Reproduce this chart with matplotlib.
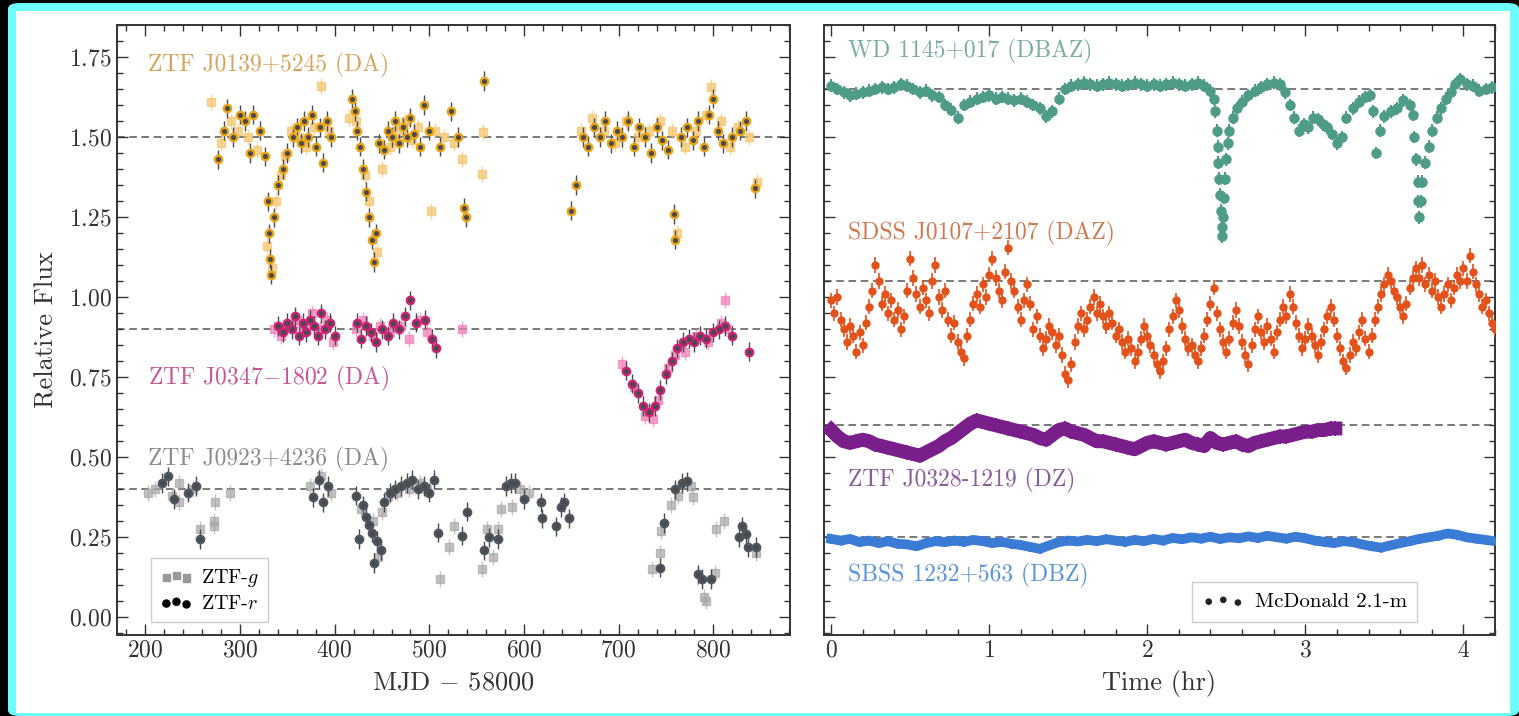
import matplotlib
matplotlib.use("Agg")
import matplotlib.pyplot as plt
from matplotlib.patches import FancyBboxPatch
from matplotlib.ticker import MultipleLocator

plt.rcParams['font.family'] = ['cmr10', 'DejaVu Serif']
plt.rcParams['mathtext.fontset'] = 'cm'
plt.rcParams['axes.formatter.use_mathtext'] = True

# ---------------- left panel: ZTF light curves (MJD - 58000, relative flux)
j0139_r_t = [277, 283, 286, 293, 300, 305, 311, 314, 321, 326, 330, 331, 332, 333, 336, 340, 345, 350,
             356, 360, 364, 368, 372, 376, 380, 384, 388, 392, 396, 418, 421, 424, 427, 430, 433, 436,
             439, 441, 444, 447, 452, 456, 460, 464, 468, 472, 476, 480, 484, 490, 494, 500, 511, 523,
             530, 537, 539, 558, 650, 655, 662, 668, 674, 680, 686, 692, 698, 704, 710, 716, 722, 728,
             734, 740, 746, 752, 758, 760, 766, 772, 778, 784, 790, 795, 800, 805, 810, 820, 828, 835, 844]
j0139_r_f = [1.43, 1.52, 1.59, 1.50, 1.57, 1.55, 1.45, 1.57, 1.52, 1.44, 1.30, 1.20, 1.12, 1.07, 1.25, 1.35,
             1.40, 1.45, 1.50, 1.53, 1.48, 1.55, 1.50, 1.57, 1.47, 1.53, 1.42, 1.55, 1.50, 1.62, 1.58, 1.52,
             1.47, 1.40, 1.33, 1.25, 1.18, 1.11, 1.20, 1.48, 1.46, 1.52, 1.50, 1.55, 1.48, 1.53, 1.50, 1.56,
             1.51, 1.47, 1.60, 1.52, 1.47, 1.58, 1.50, 1.28, 1.25, 1.675, 1.27, 1.35, 1.50, 1.47, 1.53, 1.50,
             1.55, 1.48, 1.52, 1.50, 1.55, 1.47, 1.53, 1.50, 1.45, 1.53, 1.49, 1.46, 1.26, 1.18, 1.50, 1.53,
             1.49, 1.55, 1.47, 1.57, 1.62, 1.52, 1.48, 1.50, 1.52, 1.55, 1.34]
j0139_g_t = [269, 280, 290, 298, 308, 318, 328, 334, 338, 343, 348, 354, 362, 370, 378, 386, 394, 415, 423,
             432, 436, 445, 450, 458, 466, 474, 482, 488, 502, 506, 515, 526, 534, 556, 557, 660, 672, 684,
             696, 708, 720, 732, 744, 756, 762, 770, 782, 792, 798, 808, 818, 826, 838, 846]
j0139_g_f = [1.61, 1.48, 1.55, 1.52, 1.50, 1.46, 1.16, 1.09, 1.30, 1.38, 1.44, 1.52, 1.50, 1.47, 1.53, 1.66,
             1.52, 1.56, 1.55, 1.38, 1.30, 1.14, 1.40, 1.47, 1.52, 1.55, 1.49, 1.53, 1.27, 1.52, 1.50, 1.48,
             1.43, 1.385, 1.515, 1.52, 1.56, 1.52, 1.48, 1.55, 1.50, 1.52, 1.55, 1.52, 1.20, 1.47, 1.52,
             1.57, 1.656, 1.55, 1.47, 1.53, 1.50, 1.36]

j0347_r_t = [340, 345, 350, 355, 358, 362, 366, 370, 374, 378, 382, 386, 390, 395, 400, 424, 428, 433, 438,
             444, 450, 456, 462, 468, 474, 480, 486, 495, 503, 507, 708, 714, 720, 726, 732, 738, 744, 750,
             756, 762, 768, 774, 780, 786, 792, 800, 806, 812, 820, 838]
j0347_r_f = [0.91, 0.89, 0.92, 0.90, 0.94, 0.88, 0.92, 0.89, 0.93, 0.91, 0.88, 0.95, 0.90, 0.92, 0.88, 0.92,
             0.87, 0.91, 0.89, 0.86, 0.90, 0.88, 0.92, 0.90, 0.94, 0.99, 0.92, 0.93, 0.87, 0.84, 0.77, 0.73,
             0.70, 0.66, 0.64, 0.66, 0.71, 0.76, 0.80, 0.84, 0.86, 0.87, 0.86, 0.88, 0.87, 0.89, 0.90, 0.91,
             0.88, 0.83]
j0347_g_t = [336, 343, 352, 360, 368, 376, 384, 392, 398, 422, 430, 440, 448, 458, 470, 478, 490, 498, 534,
             704, 716, 728, 736, 742, 752, 760, 770, 782, 794, 808, 812, 816]
j0347_g_f = [0.90, 0.88, 0.91, 0.93, 0.90, 0.95, 0.90, 0.93, 0.86, 0.90, 0.93, 0.88, 0.91, 0.89, 0.91, 0.87,
             0.93, 0.89, 0.90, 0.79, 0.72, 0.63, 0.62, 0.68, 0.78, 0.82, 0.83, 0.88, 0.86, 0.92, 0.99, 0.90]

j0923_r_t = [218, 224, 230, 245, 253, 258, 377, 383, 388, 393, 423, 426, 430, 433, 436, 439, 442, 445, 449,
             452, 458, 464, 470, 476, 482, 488, 494, 500, 505, 509, 535, 540, 558, 563, 572, 581, 586, 591,
             600, 618, 619, 634, 639, 642, 648, 744, 748, 760, 767, 772, 784, 788, 798, 827, 830, 834, 837, 845]
j0923_r_f = [0.42, 0.44, 0.37, 0.39, 0.41, 0.245, 0.375, 0.43, 0.36, 0.41, 0.38, 0.245, 0.35, 0.315, 0.29,
             0.265, 0.17, 0.24, 0.21, 0.36, 0.39, 0.40, 0.41, 0.42, 0.43, 0.40, 0.41, 0.39, 0.43, 0.265,
             0.255, 0.33, 0.21, 0.25, 0.245, 0.41, 0.42, 0.42, 0.37, 0.36, 0.31, 0.285, 0.345, 0.36, 0.31,
             0.155, 0.295, 0.40, 0.42, 0.425, 0.135, 0.12, 0.12, 0.25, 0.285, 0.26, 0.22, 0.22]
j0923_g_t = [203, 210, 228, 235, 236, 250, 258, 272, 273, 274, 289, 374, 386, 396, 428, 440, 446, 450, 456,
             466, 478, 490, 498, 511, 521, 526, 556, 561, 567, 572, 576, 587, 596, 605, 735, 744, 745, 755,
             763, 776, 779, 790, 792, 802, 803, 811, 845]
j0923_g_f = [0.39, 0.40, 0.38, 0.42, 0.36, 0.40, 0.275, 0.30, 0.285, 0.36, 0.39, 0.41, 0.44, 0.39, 0.34,
             0.30, 0.19, 0.33, 0.38, 0.39, 0.40, 0.42, 0.40, 0.12, 0.22, 0.285, 0.15, 0.275, 0.19, 0.275,
             0.34, 0.345, 0.40, 0.39, 0.15, 0.20, 0.27, 0.35, 0.38, 0.41, 0.375, 0.065, 0.05, 0.14, 0.275,
             0.30, 0.20]

# ---------------- right panel: McDonald 2.1-m light curves (hours, relative flux)
wd1145_t = [0.00, 0.04, 0.08, 0.12, 0.16, 0.20, 0.24, 0.28, 0.32, 0.36, 0.40, 0.44, 0.48, 0.52, 0.56, 0.60,
            0.64, 0.68, 0.72, 0.76, 0.80, 0.84, 0.88, 0.92, 0.96, 1.00, 1.04, 1.08, 1.12, 1.16, 1.20, 1.24,
            1.28, 1.32, 1.36, 1.40, 1.44, 1.48, 1.52, 1.56, 1.60, 1.64, 1.68, 1.72, 1.76, 1.80, 1.84, 1.88,
            1.92, 1.96, 2.00, 2.04, 2.08, 2.12, 2.16, 2.20, 2.24, 2.28, 2.32, 2.36, 2.40, 2.42, 2.43, 2.44,
            2.445, 2.45, 2.455, 2.46, 2.465, 2.47, 2.475, 2.48, 2.485, 2.49, 2.50, 2.51, 2.52, 2.54, 2.57,
            2.60, 2.64, 2.68, 2.72, 2.76, 2.80, 2.84, 2.87, 2.90, 2.93, 2.96, 2.99, 3.02, 3.05, 3.08, 3.11,
            3.14, 3.17, 3.20, 3.23, 3.26, 3.30, 3.34, 3.38, 3.41, 3.43, 3.45, 3.47, 3.50, 3.54, 3.58, 3.62,
            3.66, 3.68, 3.69, 3.70, 3.71, 3.715, 3.72, 3.73, 3.74, 3.76, 3.78, 3.80, 3.83, 3.86, 3.89, 3.92,
            3.95, 3.98, 4.02, 4.06, 4.10, 4.14, 4.18]
wd1145_f = [1.66, 1.65, 1.64, 1.63, 1.635, 1.64, 1.645, 1.65, 1.655, 1.65, 1.655, 1.665, 1.66, 1.65, 1.64,
            1.645, 1.63, 1.625, 1.60, 1.585, 1.56, 1.60, 1.61, 1.62, 1.625, 1.63, 1.62, 1.625, 1.62, 1.615,
            1.62, 1.61, 1.60, 1.59, 1.565, 1.58, 1.62, 1.65, 1.66, 1.665, 1.67, 1.665, 1.66, 1.665, 1.67,
            1.665, 1.66, 1.665, 1.67, 1.665, 1.66, 1.665, 1.66, 1.665, 1.67, 1.665, 1.66, 1.665, 1.67, 1.66,
            1.645, 1.62, 1.58, 1.52, 1.47, 1.42, 1.37, 1.32, 1.27, 1.22, 1.19, 1.25, 1.31, 1.37, 1.43, 1.48,
            1.52, 1.56, 1.59, 1.61, 1.63, 1.645, 1.655, 1.665, 1.67, 1.665, 1.64, 1.60, 1.56, 1.52, 1.54,
            1.53, 1.56, 1.555, 1.54, 1.53, 1.51, 1.48, 1.50, 1.56, 1.59, 1.61, 1.625, 1.63, 1.58, 1.45, 1.52,
            1.565, 1.58, 1.59, 1.615, 1.60, 1.57, 1.50, 1.43, 1.36, 1.30, 1.25, 1.30, 1.36, 1.42, 1.47, 1.52,
            1.56, 1.59, 1.62, 1.64, 1.665, 1.68, 1.665, 1.66, 1.645, 1.65, 1.655]

sdss_t = [0.00, 0.02, 0.04, 0.06, 0.08, 0.10, 0.12, 0.14, 0.16, 0.18, 0.20, 0.22, 0.24, 0.26, 0.28, 0.30,
          0.32, 0.34, 0.36, 0.38, 0.40, 0.42, 0.44, 0.46, 0.48, 0.50, 0.52, 0.54, 0.56, 0.58, 0.60, 0.62,
          0.64, 0.66, 0.68, 0.70, 0.72, 0.74, 0.76, 0.78, 0.80, 0.82, 0.84, 0.86, 0.88, 0.90, 0.92, 0.94,
          0.96, 0.98, 1.00, 1.02, 1.04, 1.06, 1.08, 1.10, 1.12, 1.14, 1.16, 1.18, 1.20, 1.22, 1.24, 1.26,
          1.28, 1.30, 1.32, 1.34, 1.36, 1.38, 1.40, 1.42, 1.44, 1.46, 1.48, 1.50, 1.52, 1.54, 1.56, 1.58,
          1.60, 1.62, 1.64, 1.66, 1.68, 1.70, 1.72, 1.74, 1.76, 1.78, 1.80, 1.82, 1.84, 1.86, 1.88, 1.90,
          1.92, 1.94, 1.96, 1.98, 2.00, 2.02, 2.04, 2.06, 2.08, 2.10, 2.12, 2.14, 2.16, 2.18, 2.20, 2.22,
          2.24, 2.26, 2.28, 2.30, 2.32, 2.34, 2.36, 2.38, 2.40, 2.42, 2.44, 2.46, 2.48, 2.50, 2.52, 2.54,
          2.56, 2.58, 2.60, 2.62, 2.64, 2.66, 2.68, 2.70, 2.72, 2.74, 2.76, 2.78, 2.80, 2.82, 2.84, 2.86,
          2.88, 2.90, 2.92, 2.94, 2.96, 2.98, 3.00, 3.02, 3.04, 3.06, 3.08, 3.10, 3.12, 3.14, 3.16, 3.18,
          3.20, 3.22, 3.24, 3.26, 3.28, 3.30, 3.32, 3.34, 3.36, 3.38, 3.40, 3.42, 3.44, 3.46, 3.48, 3.50,
          3.52, 3.54, 3.56, 3.58, 3.60, 3.62, 3.64, 3.66, 3.68, 3.70, 3.72, 3.74, 3.76, 3.78, 3.80, 3.82,
          3.84, 3.86, 3.88, 3.90, 3.92, 3.94, 3.96, 3.98, 4.00, 4.02, 4.04, 4.06, 4.08, 4.10, 4.12, 4.14,
          4.16, 4.18, 4.20]
sdss_f = [0.99, 0.95, 1.00, 0.93, 0.90, 0.86, 0.91, 0.88, 0.83, 0.89, 0.85, 0.92, 0.97, 1.02, 1.10, 1.05,
          0.98, 1.01, 0.95, 0.99, 0.93, 0.96, 0.90, 0.94, 1.02, 1.12, 1.06, 1.01, 0.97, 1.03, 0.99, 0.95,
          1.05, 1.10, 1.00, 0.96, 1.02, 0.93, 0.88, 0.92, 0.86, 0.83, 0.81, 0.88, 0.93, 0.98, 1.01, 0.97,
          1.04, 1.00, 1.07, 1.12, 1.06, 1.02, 0.99, 1.08, 1.155, 1.05, 1.02, 0.97, 0.93, 0.99, 1.04, 0.98,
          0.90, 0.94, 0.88, 0.84, 0.87, 0.91, 0.89, 0.85, 0.88, 0.82, 0.76, 0.74, 0.79, 0.86, 0.91, 0.95,
          0.90, 0.93, 0.97, 1.00, 0.95, 0.98, 0.94, 0.91, 0.95, 0.92, 0.88, 0.90, 0.86, 0.83, 0.87, 0.84,
          0.80, 0.83, 0.87, 0.91, 0.88, 0.85, 0.82, 0.79, 0.77, 0.80, 0.84, 0.90, 0.94, 0.99, 0.96, 0.91,
          0.87, 0.84, 0.85, 0.82, 0.80, 0.84, 0.88, 0.93, 0.98, 1.03, 0.95, 0.90, 0.86, 0.83, 0.87, 0.92,
          0.96, 0.91, 0.86, 0.82, 0.79, 0.85, 0.90, 0.94, 0.89, 0.86, 0.91, 0.87, 0.83, 0.89, 0.93, 0.97,
          0.94, 1.01, 0.97, 0.92, 0.88, 0.84, 0.87, 0.91, 0.88, 0.85, 0.82, 0.86, 0.90, 0.94, 0.97, 0.93,
          0.88, 0.84, 0.80, 0.78, 0.82, 0.86, 0.84, 0.89, 0.93, 0.87, 0.83, 0.88, 0.93, 0.97, 1.01, 1.04,
          1.07, 1.05, 1.02, 1.00, 0.97, 0.94, 0.98, 1.03, 1.06, 1.09, 1.06, 1.10, 1.04, 1.07, 1.02, 1.05,
          1.00, 0.97, 1.01, 1.04, 0.99, 1.03, 1.07, 1.05, 1.09, 1.05, 1.13, 1.08, 1.04, 1.01, 0.97, 0.99,
          0.95, 0.92, 0.90]

j0328_t = [0.00, 0.04, 0.08, 0.12, 0.16, 0.20, 0.24, 0.28, 0.32, 0.36, 0.40, 0.44, 0.48, 0.52, 0.56, 0.60,
           0.64, 0.68, 0.72, 0.76, 0.80, 0.84, 0.88, 0.92, 0.96, 1.00, 1.04, 1.08, 1.12, 1.16, 1.20, 1.24,
           1.28, 1.32, 1.36, 1.40, 1.44, 1.48, 1.52, 1.56, 1.60, 1.64, 1.68, 1.72, 1.76, 1.80, 1.84, 1.88,
           1.92, 1.96, 2.00, 2.04, 2.08, 2.12, 2.16, 2.20, 2.24, 2.28, 2.32, 2.36, 2.40, 2.44, 2.48, 2.52,
           2.56, 2.60, 2.64, 2.68, 2.72, 2.76, 2.80, 2.84, 2.88, 2.92, 2.96, 3.00, 3.04, 3.08, 3.12, 3.16, 3.19]
j0328_f = [0.585, 0.565, 0.55, 0.545, 0.55, 0.555, 0.55, 0.54, 0.535, 0.53, 0.525, 0.52, 0.515, 0.51, 0.505,
           0.515, 0.525, 0.535, 0.55, 0.56, 0.575, 0.59, 0.605, 0.615, 0.61, 0.605, 0.60, 0.595, 0.59, 0.585,
           0.58, 0.575, 0.57, 0.56, 0.555, 0.57, 0.585, 0.59, 0.58, 0.575, 0.57, 0.56, 0.55, 0.55, 0.545,
           0.54, 0.535, 0.53, 0.525, 0.535, 0.545, 0.55, 0.545, 0.54, 0.545, 0.55, 0.555, 0.545, 0.54,
           0.535, 0.56, 0.545, 0.54, 0.545, 0.55, 0.54, 0.535, 0.545, 0.55, 0.555, 0.56, 0.565, 0.565, 0.57,
           0.575, 0.58, 0.58, 0.585, 0.585, 0.59, 0.59]

sbss_t = [0.00, 0.06, 0.12, 0.18, 0.24, 0.30, 0.36, 0.42, 0.48, 0.54, 0.60, 0.66, 0.72, 0.78, 0.84, 0.90,
          0.96, 1.02, 1.08, 1.14, 1.20, 1.26, 1.32, 1.38, 1.44, 1.50, 1.56, 1.62, 1.68, 1.74, 1.80, 1.86,
          1.92, 1.98, 2.04, 2.10, 2.16, 2.22, 2.28, 2.34, 2.40, 2.46, 2.52, 2.58, 2.64, 2.70, 2.76, 2.82,
          2.88, 2.94, 3.00, 3.06, 3.12, 3.18, 3.24, 3.30, 3.36, 3.42, 3.48, 3.54, 3.60, 3.66, 3.72, 3.78,
          3.84, 3.90, 3.96, 4.02, 4.08, 4.14, 4.20]
sbss_f = [0.245, 0.24, 0.245, 0.235, 0.24, 0.232, 0.238, 0.23, 0.228, 0.222, 0.232, 0.238, 0.235, 0.24,
          0.236, 0.242, 0.238, 0.232, 0.236, 0.23, 0.226, 0.22, 0.214, 0.225, 0.235, 0.24, 0.237, 0.242,
          0.238, 0.244, 0.24, 0.236, 0.242, 0.238, 0.245, 0.24, 0.248, 0.244, 0.25, 0.246, 0.252, 0.245,
          0.25, 0.247, 0.253, 0.248, 0.255, 0.25, 0.246, 0.252, 0.247, 0.24, 0.236, 0.232, 0.238, 0.235,
          0.228, 0.222, 0.218, 0.225, 0.232, 0.238, 0.245, 0.25, 0.255, 0.262, 0.258, 0.25, 0.246, 0.242,
          0.238]

left_levels = [1.5, 0.9, 0.4]
right_levels = [1.65, 1.05, 0.6, 0.25]
left_names = ["ZTF J0139+5245 (DA)", r"ZTF J0347$-$1802 (DA)", "ZTF J0923+4236 (DA)"]
right_names = ["WD 1145+017 (DBAZ)", "SDSS J0107+2107 (DAZ)", "ZTF J0328-1219 (DZ)", "SBSS 1232+563 (DBZ)"]

# ---------------- figure
fig = plt.figure(figsize=(15.19, 7.16), dpi=100, facecolor='black')
fig.patches.append(FancyBboxPatch((8 / 1519, 0.0), 1511 / 1519, 713 / 716,
                                  boxstyle="round,pad=0,rounding_size=0.008",
                                  transform=fig.transFigure, fc='#6ffcfc', ec='none', zorder=-3))
fig.patches.append(FancyBboxPatch((16 / 1519, 3 / 716), 1494 / 1519, 702 / 716,
                                  boxstyle="square,pad=0",
                                  transform=fig.transFigure, fc='white', ec='none', zorder=-2))

ax1 = fig.add_axes([117 / 1519, 81 / 716, 673 / 1519, 610 / 716])
ax2 = fig.add_axes([824 / 1519, 81 / 716, 671 / 1519, 610 / 716])

for ax in (ax1, ax2):
    ax.set_ylim(-0.055, 1.85)
    ax.yaxis.set_major_locator(MultipleLocator(0.25))
    ax.yaxis.set_minor_locator(MultipleLocator(0.05))
    ax.tick_params(which='both', direction='in', top=True, right=True, colors='#333333',
                   labelsize=17, width=1.0)
    ax.tick_params(which='major', length=8)
    ax.tick_params(which='minor', length=4)
    for s in ax.spines.values():
        s.set_linewidth(1.4)
        s.set_color('#333333')

ax1.set_xlim(170, 881)
ax1.xaxis.set_major_locator(MultipleLocator(100))
ax1.xaxis.set_minor_locator(MultipleLocator(20))
ax2.set_xlim(-0.045, 4.2)
ax2.xaxis.set_major_locator(MultipleLocator(1))
ax2.xaxis.set_minor_locator(MultipleLocator(0.2))
ax2.tick_params(labelleft=False)

ax1.set_ylabel("Relative Flux", fontsize=19, color='#333333', labelpad=8)
ax1.set_xlabel(r"MJD $-$ 58000", fontsize=19, color='#333333', labelpad=6)
ax2.set_xlabel("Time (hr)", fontsize=19, color='#333333', labelpad=6)

for lv in left_levels:
    ax1.axhline(lv, color='#555555', lw=1.1, ls=(0, (5, 3)), zorder=1)
for lv in right_levels:
    ax2.axhline(lv, color='#555555', lw=1.1, ls=(0, (5, 3)), zorder=1)


def ztf(ax, gt, gf, rt, rf, col, light):
    ax.errorbar(gt, gf, yerr=0.025, fmt='s', ms=6, color=light, ecolor=light, elinewidth=1,
                alpha=0.7, zorder=2)
    ax.errorbar(rt, rf, yerr=0.03, fmt='o', ms=6, color=col, ecolor='#4a4a4a', elinewidth=1,
                mec=col, zorder=3)
    ax.plot(rt, rf, 'o', ms=2.6, color='#4a4a4a', zorder=4)


ztf(ax1, j0139_g_t, j0139_g_f, j0139_r_t, j0139_r_f, '#E8A317', '#F4C46A')
ztf(ax1, j0347_g_t, j0347_g_f, j0347_r_t, j0347_r_f, '#CC2277', '#F27DB5')
ztf(ax1, j0923_g_t, j0923_g_f, j0923_r_t, j0923_r_f, '#4F5660', '#A8A8A8')

ax1.text(0.046, 0.934, left_names[0], color='#D8A25A', fontsize=17, va='center', transform=ax1.transAxes)
ax1.text(0.046, 0.421, left_names[1], color='#C8569A', fontsize=17, va='center', transform=ax1.transAxes)
ax1.text(0.046, 0.287, left_names[2], color='#8C8C8C', fontsize=17, va='center', transform=ax1.transAxes)

hg = ax1.scatter([], [], marker='s', s=30, color='#999999')
hr = ax1.scatter([], [], marker='o', s=26, color='black')
leg1 = ax1.legend([hg, hr], [r"ZTF-$g$", r"ZTF-$r$"], loc='lower left', bbox_to_anchor=(0.036, 0.005),
                  scatterpoints=3, fontsize=14.5, frameon=True, fancybox=False, edgecolor='#cccccc',
                  framealpha=1, handletextpad=0.4, handlelength=1.6, borderpad=0.45, labelspacing=0.3)
leg1.get_frame().set_linewidth(1.0)

# right panel
ax2.errorbar(wd1145_t, wd1145_f, yerr=0.02, fmt='o', ms=6.5, color='#4E9C88', ecolor='#4E9C88',
             elinewidth=1.5, zorder=3)
ax2.errorbar(sdss_t, sdss_f, yerr=0.024, fmt='o', ms=5, color='#E2521A', ecolor='#E2521A',
             elinewidth=1.2, zorder=3)
ax2.plot(j0328_t, j0328_f, '-', lw=10, color='#7A1E8C', zorder=3)
ax2.errorbar(j0328_t, j0328_f, yerr=0.022, fmt='o', ms=7, color='#7A1E8C', ecolor='#7A1E8C',
             elinewidth=1.4, zorder=3)
ax2.plot(sbss_t, sbss_f, '-', lw=7, color='#3A7BD5', zorder=3)
ax2.errorbar(sbss_t, sbss_f, yerr=0.015, fmt='o', ms=5, color='#3A7BD5', ecolor='#3A7BD5',
             elinewidth=1.3, zorder=3)

ax2.text(0.036, 0.956, right_names[0], color='#7AADA0', fontsize=17, va='center', transform=ax2.transAxes)
ax2.text(0.036, 0.659, right_names[1], color='#D0784E', fontsize=17, va='center', transform=ax2.transAxes)
ax2.text(0.036, 0.254, right_names[2], color='#8A5A9C', fontsize=17, va='center', transform=ax2.transAxes)
ax2.text(0.036, 0.098, right_names[3], color='#5A94DA', fontsize=17, va='center', transform=ax2.transAxes)

hm = ax2.scatter([], [], marker='o', s=14, color='#222222')
leg2 = ax2.legend([hm], ["McDonald 2.1-m"], loc='lower left', bbox_to_anchor=(0.533, 0.005),
                  scatterpoints=3, fontsize=15, frameon=True, fancybox=False, edgecolor='#cccccc',
                  framealpha=1, handletextpad=0.5, borderpad=0.5)
leg2.get_frame().set_linewidth(1.0)

fig.savefig("out.png", dpi=100, facecolor=fig.get_facecolor())
